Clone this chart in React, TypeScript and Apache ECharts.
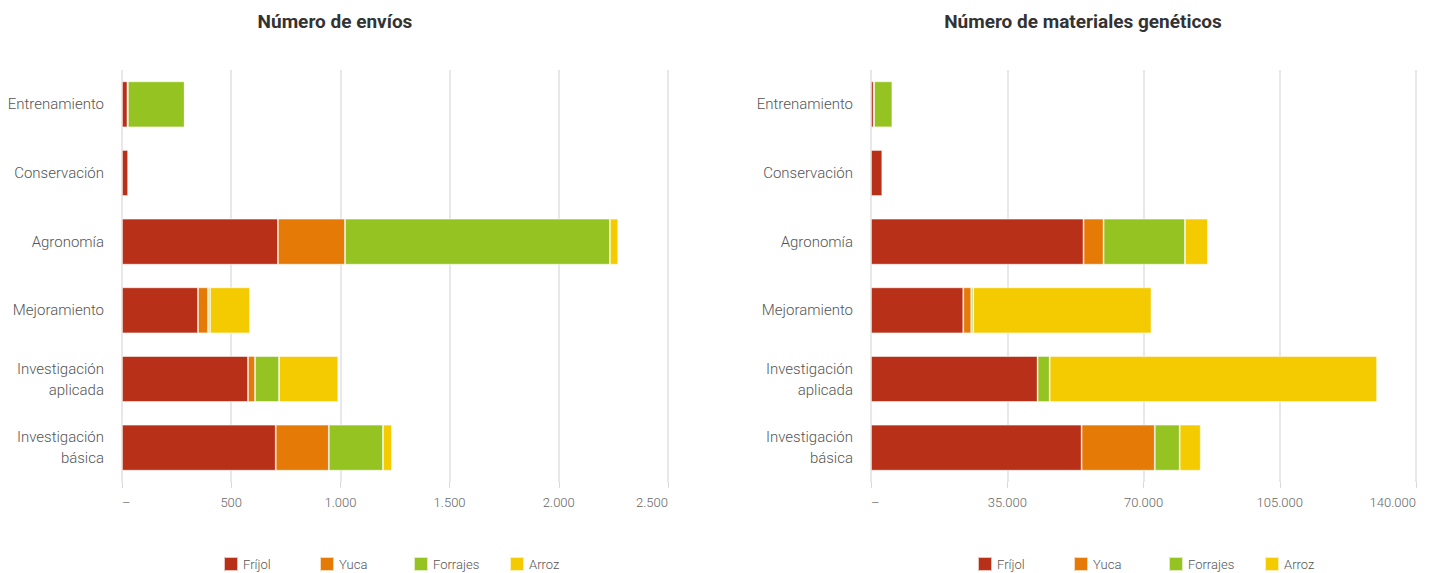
import React, { useEffect, useRef } from "react";
import * as echarts from "echarts";

const categories = [
  "Entrenamiento",
  "Conservación",
  "Agronomía",
  "Mejoramiento",
  "Investigación\naplicada",
  "Investigación\nbásica",
];
const seriesNames = ["Fríjol", "Yuca", "Forrajes", "Arroz"];
const colors = ["#B93018", "#E57A06", "#95C322", "#F4CA00"];

// Número de envíos
const enviosFrijol = [25, 28, 714, 348, 577, 704];
const enviosYuca = [2, 4, 307, 46, 32, 243];
const enviosForrajes = [260, 0, 1213, 9, 110, 248];
const enviosArroz = [0, 0, 38, 183, 271, 41];

// Número de materiales genéticos
const matFrijol = [700, 2900, 54600, 23700, 42800, 54100];
const matYuca = [100, 200, 5150, 2050, 0, 18800];
const matForrajes = [4700, 0, 20900, 500, 3100, 6400];
const matArroz = [0, 0, 5900, 45800, 84100, 5400];

const enviosTicks = { min: 0, max: 2500, interval: 500 };
const matTicks = { min: 0, max: 140000, interval: 35000 };

const titles = ["Número de envíos", "Número de materiales genéticos"];

const FONT = "Roboto, 'Noto Sans', sans-serif";

function fmt(v: number): string {
  if (v === 0) return "–";
  return String(v).replace(/\B(?=(\d{3})+(?!\d))/g, ".");
}

export default function App() {
  const ref = useRef<HTMLDivElement>(null);
  useEffect(() => {
    const chart = echarts.init(ref.current!, null, { renderer: "svg" });
    const envios = [enviosFrijol, enviosYuca, enviosForrajes, enviosArroz];
    const mats = [matFrijol, matYuca, matForrajes, matArroz];
    const mkSeries = (data: number[][], idx: number) =>
      data.map((d, i) => ({
        name: seriesNames[i],
        type: "bar",
        stack: "s" + idx,
        xAxisIndex: idx,
        yAxisIndex: idx,
        data: d,
        barCategoryGap: "33%",
        itemStyle: {
          color: colors[i],
          borderColor: "rgba(255,255,255,0.7)",
          borderWidth: 0.8,
        },
      }));
    const mkX = (idx: number, t: { min: number; max: number; interval: number }) => ({
      type: "value",
      gridIndex: idx,
      min: t.min,
      max: t.max,
      interval: t.interval,
      axisLine: { show: false },
      axisTick: { show: true, length: 6, lineStyle: { color: "#d9d9d9" } },
      splitLine: { show: true, lineStyle: { color: "#e0e0e0", width: 1.5 } },
      axisLabel: {
        formatter: (v: number) => fmt(v),
        color: "#666",
        fontFamily: FONT,
        fontWeight: 300,
        fontSize: 13,
        margin: 14,
        alignMinLabel: "left",
        alignMaxLabel: "right",
      },
    });
    const mkY = (idx: number) => ({
      type: "category",
      gridIndex: idx,
      data: categories,
      inverse: true,
      axisLine: { show: false },
      axisTick: { show: false },
      axisLabel: {
        color: "#555",
        fontFamily: FONT,
        fontWeight: 300,
        fontSize: 15,
        lineHeight: 21,
        margin: 18,
        align: "right",
      },
    });
    const legendStarts = [
      [223, 319, 413, 509],
      [977, 1073, 1168, 1264],
    ];
    const legends: any[] = [];
    legendStarts.forEach((starts) =>
      starts.forEach((left, i) =>
        legends.push({
          left,
          top: 556,
          padding: 0,
          itemWidth: 14,
          itemHeight: 14,
          itemGap: 0,
          icon: "rect",
          data: [seriesNames[i]],
          textStyle: { color: "#555", fontFamily: FONT, fontWeight: 300, fontSize: 13 },
        })
      )
    );
    chart.setOption({
      animation: false,
      title: titles.map((t, i) => ({
        text: t,
        left: i === 0 ? 335 : 1083,
        top: 12,
        padding: 0,
        textAlign: "center",
        textStyle: { fontFamily: FONT, fontSize: 19, fontWeight: "bold", color: "#333" },
      })),
      legend: legends,
      grid: [
        { left: 122, width: 546, top: 70, height: 412, containLabel: false, outerBoundsMode: "none" },
        { left: 871, width: 545, top: 70, height: 412, containLabel: false, outerBoundsMode: "none" },
      ],
      xAxis: [mkX(0, enviosTicks), mkX(1, matTicks)],
      yAxis: [mkY(0), mkY(1)],
      series: [...mkSeries(envios, 0), ...mkSeries(mats, 1)],
    });
    return () => chart.dispose();
  }, []);
  return (
    <div
      ref={ref}
      style={{ position: "absolute", left: 0, top: 0, width: 1432, height: 573 }}
    />
  );
}
